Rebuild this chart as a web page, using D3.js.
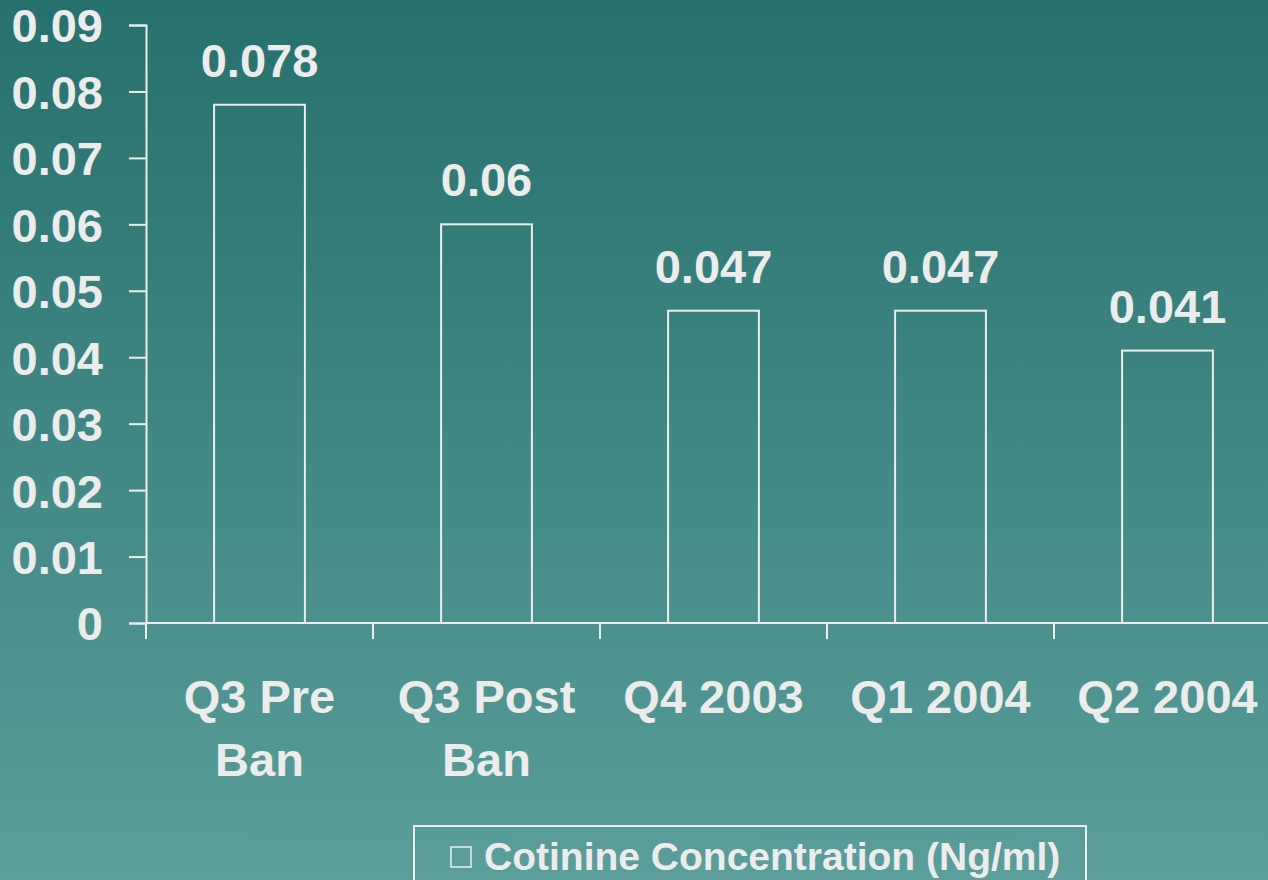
<!DOCTYPE html>
<html>
<head>
<meta charset="utf-8">
<script src="https://cdn.jsdelivr.net/npm/d3@7"></script>
<style>
  html, body { margin: 0; padding: 0; overflow: hidden; }
  body { width: 1268px; height: 880px; }
  text { font-family: "Liberation Sans", Arial, sans-serif; font-weight: bold; fill: #ececec; }
</style>
</head>
<body>
<svg id="chart" width="1268" height="880"></svg>
<script>
// Cotinine concentration by quarter
const categories = [["Q3 Pre", "Ban"], ["Q3 Post", "Ban"], ["Q4 2003"], ["Q1 2004"], ["Q2 2004"]];
const values = [0.078, 0.06, 0.047, 0.047, 0.041];
const valueLabels = ["0.078", "0.06", "0.047", "0.047", "0.041"];
const yTicks = [0, 0.01, 0.02, 0.03, 0.04, 0.05, 0.06, 0.07, 0.08, 0.09];
const yTickLabels = ["0", "0.01", "0.02", "0.03", "0.04", "0.05", "0.06", "0.07", "0.08", "0.09"];
const seriesName = "Cotinine Concentration (Ng/ml)";

const svg = d3.select("#chart");
const ink = "#ececec";

// background gradient
const defs = svg.append("defs");
const grad = defs.append("linearGradient").attr("id", "bg").attr("x1", 0).attr("y1", 0).attr("x2", 0).attr("y2", 1);
grad.append("stop").attr("offset", "0%").attr("stop-color", "#26706e");
grad.append("stop").attr("offset", "100%").attr("stop-color", "#5b9e9c");
svg.append("rect").attr("width", 1268).attr("height", 880).attr("fill", "url(#bg)");

const keys = categories.map(c => c.join(" "));
const x = d3.scaleBand().domain(keys).range([146, 1281]).paddingInner(0.6).paddingOuter(0.3);
const y = d3.scaleLinear().domain([0, 0.09]).range([623, 25]);

// y axis
const yAxis = svg.append("g").attr("transform", "translate(146,0)")
  .call(d3.axisLeft(y).tickValues(yTicks).tickFormat((d, i) => yTickLabels[i]).tickSize(17).tickPadding(26));
yAxis.select(".domain").attr("stroke", ink).attr("stroke-width", 2);
yAxis.selectAll(".tick line").attr("stroke", ink).attr("stroke-width", 2);
yAxis.selectAll(".tick text").attr("font-size", 47).attr("fill", ink)
  .attr("font-family", "Liberation Sans, Arial, sans-serif").attr("font-weight", "bold").attr("dy", "0.36em");

// bars
svg.append("g").selectAll("rect").data(values).join("rect")
  .attr("x", (d, i) => x(keys[i]))
  .attr("y", d => y(d))
  .attr("width", x.bandwidth())
  .attr("height", d => y(0) - y(d))
  .attr("fill", "none").attr("stroke", ink).attr("stroke-width", 2);

// x axis line with ticks at category boundaries
svg.append("line").attr("x1", 146).attr("x2", 1268).attr("y1", y(0)).attr("y2", y(0))
  .attr("stroke", ink).attr("stroke-width", 2);
svg.append("g").selectAll("line").data(keys).join("line")
  .attr("x1", (k, i) => x.range()[0] + i * x.step())
  .attr("x2", (k, i) => x.range()[0] + i * x.step())
  .attr("y1", y(0)).attr("y2", y(0) + 16)
  .attr("stroke", ink).attr("stroke-width", 2);

// category labels
const cat = svg.append("g").selectAll("text").data(categories).join("text")
  .attr("text-anchor", "middle").attr("font-size", 47)
  .attr("x", (d, i) => x(keys[i]) + x.bandwidth() / 2)
  .attr("y", 713);
cat.selectAll("tspan").data(d => d).join("tspan")
  .attr("x", function() { return d3.select(this.parentNode).attr("x"); })
  .attr("dy", (d, i) => i === 0 ? 0 : 63)
  .text(d => d);

// value labels
svg.append("g").selectAll("text").data(values).join("text")
  .attr("text-anchor", "middle").attr("font-size", 47)
  .attr("x", (d, i) => x(keys[i]) + x.bandwidth() / 2)
  .attr("y", d => y(d) - 28)
  .text((d, i) => valueLabels[i]);

// legend
const legend = svg.append("g");
legend.append("rect").attr("x", 414).attr("y", 826).attr("width", 672).attr("height", 70)
  .attr("fill", "none").attr("stroke", ink).attr("stroke-width", 2);
legend.append("rect").attr("x", 451).attr("y", 847).attr("width", 20).attr("height", 20)
  .attr("fill", "none").attr("stroke", ink).attr("stroke-width", 1.5);
legend.append("text").attr("x", 484).attr("y", 870).attr("font-size", 39).text(seriesName);
</script>
</body>
</html>
